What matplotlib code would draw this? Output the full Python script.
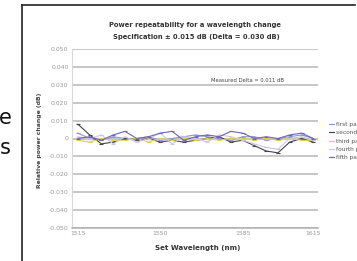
import matplotlib.pyplot as plt
from matplotlib.lines import Line2D

wavelengths = [1515, 1520, 1525, 1530, 1535, 1540, 1545, 1550, 1555, 1560, 1565,
               1570, 1575, 1580, 1585, 1590, 1595, 1600, 1605, 1610, 1615]
first_pass = [0.003, 0.000, -0.001, 0.001, 0.000, 0.000, 0.001, -0.001, 0.000, 0.001, 0.002,
              0.001, 0.000, -0.001, 0.001, 0.001, -0.001, 0.000, 0.001, 0.002, 0.000]
second_pass = [0.008, 0.002, -0.003, -0.002, 0.000, -0.001, 0.000, -0.002, -0.001, -0.002, -0.001,
               0.000, 0.001, -0.002, -0.001, -0.004, -0.007, -0.008, -0.002, 0.000, -0.002]
third_pass = [-0.001, -0.002, 0.000, -0.001, -0.001, 0.000, -0.002, 0.000, -0.001, 0.000, -0.001,
              0.000, -0.001, 0.000, 0.000, -0.001, 0.000, -0.001, 0.000, -0.001, -0.001]
fourth_pass = [0.001, 0.000, 0.002, -0.003, 0.001, -0.002, 0.000, 0.003, -0.003, 0.001, 0.000,
               -0.002, 0.002, 0.001, -0.001, -0.003, -0.005, -0.006, 0.000, 0.001, -0.001]
fifth_pass = [0.000, 0.001, -0.001, 0.002, 0.004, 0.000, 0.001, 0.003, 0.004, -0.001, 0.001,
              0.002, 0.001, 0.004, 0.003, 0.000, 0.001, 0.000, 0.002, 0.003, 0.000]
series = [("first pass", first_pass, "#8a96d6"),
          ("second pass", second_pass, "#454545"),
          ("third pass", third_pass, "#e2d24a"),
          ("fourth pass", fourth_pass, "#cdc6e6"),
          ("fifth pass", fifth_pass, "#7464b4")]
xticks = [1515, 1550, 1585, 1615]
yticks = [0.05, 0.04, 0.03, 0.02, 0.01, 0, -0.01, -0.02, -0.03, -0.04, -0.05]
ylabels = ["0.050", "0.040", "0.030", "0.020", "0.010", "0", "-0.010", "-0.020",
           "-0.030", "-0.040", "-0.050"]

W, H = 357, 261
fig = plt.figure(figsize=(W / 100, H / 100), dpi=100)
fig.patch.set_facecolor("white")

# black frame of the screenshot
fig.add_artist(Line2D([22 / W, 355 / W], [1 - 5 / H, 1 - 5 / H], color="#222222", lw=1.2))
fig.add_artist(Line2D([22 / W, 22 / W], [0, 1 - 5 / H], color="#222222", lw=1.2))

# pieces of the page text on the left
fig.text(-1 / W, 1 - 118 / H, "e", fontsize=15, color="#111111", va="center")
fig.text(0 / W, 1 - 148 / H, "s", fontsize=15, color="#111111", va="center")

ax = fig.add_axes([72 / W, 1 - 228 / H, 246 / W, 179 / H])
for name, vals, col in series:
    ax.plot(wavelengths, vals, color=col, lw=0.8, marker="_", ms=3, mew=0.8, label=name)

ax.set_xlim(1512.5, 1617)
ax.set_ylim(-0.05, 0.05)
ax.set_xticks(xticks)
ax.set_xticklabels([str(t) for t in xticks])
ax.set_yticks(yticks)
ax.set_yticklabels(ylabels)
ax.tick_params(axis="both", labelsize=4.4, colors="#999999", length=0, pad=2.5)
ax.grid(axis="y", color="#b8b8b8", lw=1.1)
ax.set_axisbelow(True)
for s in ["top", "right"]:
    ax.spines[s].set_visible(False)
ax.spines["left"].set_color("#d8d8d8")
ax.spines["bottom"].set_color("#b0b0b0")
ax.spines["bottom"].set_linewidth(1.1)

ax.text(1587, 0.0315, "Measured Delta = 0.011 dB", fontsize=3.8, color="#444444", ha="center")

fig.text(195 / W, 1 - 25 / H, "Power repeatability for a wavelength change",
         fontsize=4.85, fontweight="bold", color="#333333", ha="center", va="center")
fig.text(196 / W, 1 - 37 / H, "Specification \u00b1 0.015 dB (Delta = 0.030 dB)",
         fontsize=4.85, fontweight="bold", color="#333333", ha="center", va="center")
fig.text(40 / W, 1 - 140 / H, "Relative power change (dB)", rotation=90,
         fontsize=4.4, fontweight="bold", color="#444444", ha="center", va="center")
fig.text(198 / W, 1 - 248 / H, "Set Wavelength (nm)",
         fontsize=5.1, fontweight="bold", color="#333333", ha="center", va="center")

fig.legend(loc="upper left", bbox_to_anchor=(326 / W, 1 - 119 / H), frameon=False,
           fontsize=4.2, labelcolor="#555555", handlelength=0.9, handletextpad=0.4,
           labelspacing=0.55, borderpad=0)

fig.savefig("out.png", dpi=100)
